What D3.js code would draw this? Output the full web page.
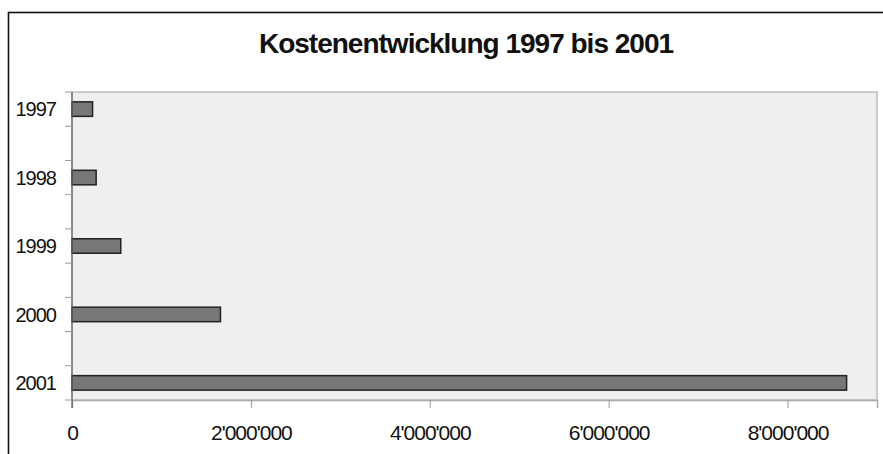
<!DOCTYPE html>
<html>
<head>
<meta charset="utf-8">
<script src="https://cdn.jsdelivr.net/npm/d3@7"></script>
<style>
  body { margin: 0; background: #fff; }
  text { font-family: "Liberation Sans", Arial, sans-serif; }
</style>
</head>
<body>
<div id="chart"></div>
<script>
// Kosten pro Jahr (horizontal bars)
const years = ['1997', '1998', '1999', '2000', '2001'];
const costs = [230000, 270000, 545000, 1660000, 8660000];
const xTicks = [0, 2000000, 4000000, 6000000, 8000000];
const xTickLabels = ['0', "2'000'000", "4'000'000", "6'000'000", "8'000'000"];
const title = 'Kostenentwicklung 1997 bis 2001';

const W = 883, H = 454;
const plot = { left: 72, right: 877, top: 92, bottom: 400 };

const svg = d3.select('#chart')
  .append('svg')
  .attr('width', W)
  .attr('height', H);

// outer frame (runs off the right / bottom edge)
svg.append('rect')
  .attr('x', 8.5).attr('y', 12.5)
  .attr('width', 1000).attr('height', 1000)
  .attr('fill', 'none')
  .attr('stroke', '#111')
  .attr('stroke-width', 1.6);

svg.append('text')
  .attr('x', 466)
  .attr('y', 53)
  .attr('text-anchor', 'middle')
  .attr('font-size', 28)
  .attr('font-weight', 'bold')
  .attr('letter-spacing', -1)
  .attr('fill', '#111')
  .text(title);

const x = d3.scaleLinear()
  .domain([0, 9000000])
  .range([plot.left, plot.right]);

const q = (plot.bottom - plot.top) / 18;
const y = d3.scalePoint()
  .domain(years)
  .range([plot.top + q, plot.bottom - q]);
const barH = 14.5;

// plot area
svg.append('rect')
  .attr('x', plot.left).attr('y', plot.top)
  .attr('width', plot.right - plot.left)
  .attr('height', plot.bottom - plot.top)
  .attr('fill', '#efefef')
  .attr('stroke', '#bdbdbd')
  .attr('stroke-width', 1.5);

// bars
svg.selectAll('.bar')
  .data(years)
  .enter()
  .append('rect')
  .attr('class', 'bar')
  .attr('x', x(0))
  .attr('y', d => y(d) - barH / 2)
  .attr('width', (d, i) => x(costs[i]) - x(0))
  .attr('height', barH)
  .attr('fill', '#777')
  .attr('stroke', '#222')
  .attr('stroke-width', 1.5);

// x axis
const xAxis = svg.append('g')
  .attr('transform', `translate(0,${plot.bottom})`)
  .call(d3.axisBottom(x)
    .tickValues(xTicks)
    .tickSize(8)
    .tickPadding(17)
    .tickFormat((d, i) => xTickLabels[i]));
xAxis.select('.domain').attr('stroke', '#aaa').attr('stroke-width', 1.5);
xAxis.selectAll('.tick line').attr('stroke', '#999');
xAxis.selectAll('.tick text')
  .attr('font-size', 21)
  .attr('letter-spacing', -1)
  .attr('fill', '#111');

// y axis: labels at category centres, ticks a quarter step either side
const yAxis = svg.append('g').attr('transform', `translate(${plot.left},0)`);
yAxis.append('line')
  .attr('x1', 0).attr('x2', 0)
  .attr('y1', plot.top).attr('y2', plot.bottom + 8)
  .attr('stroke', '#666')
  .attr('stroke-width', 1.3);

const step = y.step();
years.forEach(yr => {
  [-step / 4, step / 4].forEach(off => {
    yAxis.append('line')
      .attr('x1', -7).attr('x2', 0)
      .attr('y1', y(yr) + off).attr('y2', y(yr) + off)
      .attr('stroke', '#999');
  });
  yAxis.append('text')
    .attr('x', -16)
    .attr('y', y(yr))
    .attr('dy', '0.36em')
    .attr('text-anchor', 'end')
    .attr('font-size', 20)
    .attr('letter-spacing', -1)
    .attr('fill', '#111')
    .text(yr);
});
</script>
</body>
</html>
